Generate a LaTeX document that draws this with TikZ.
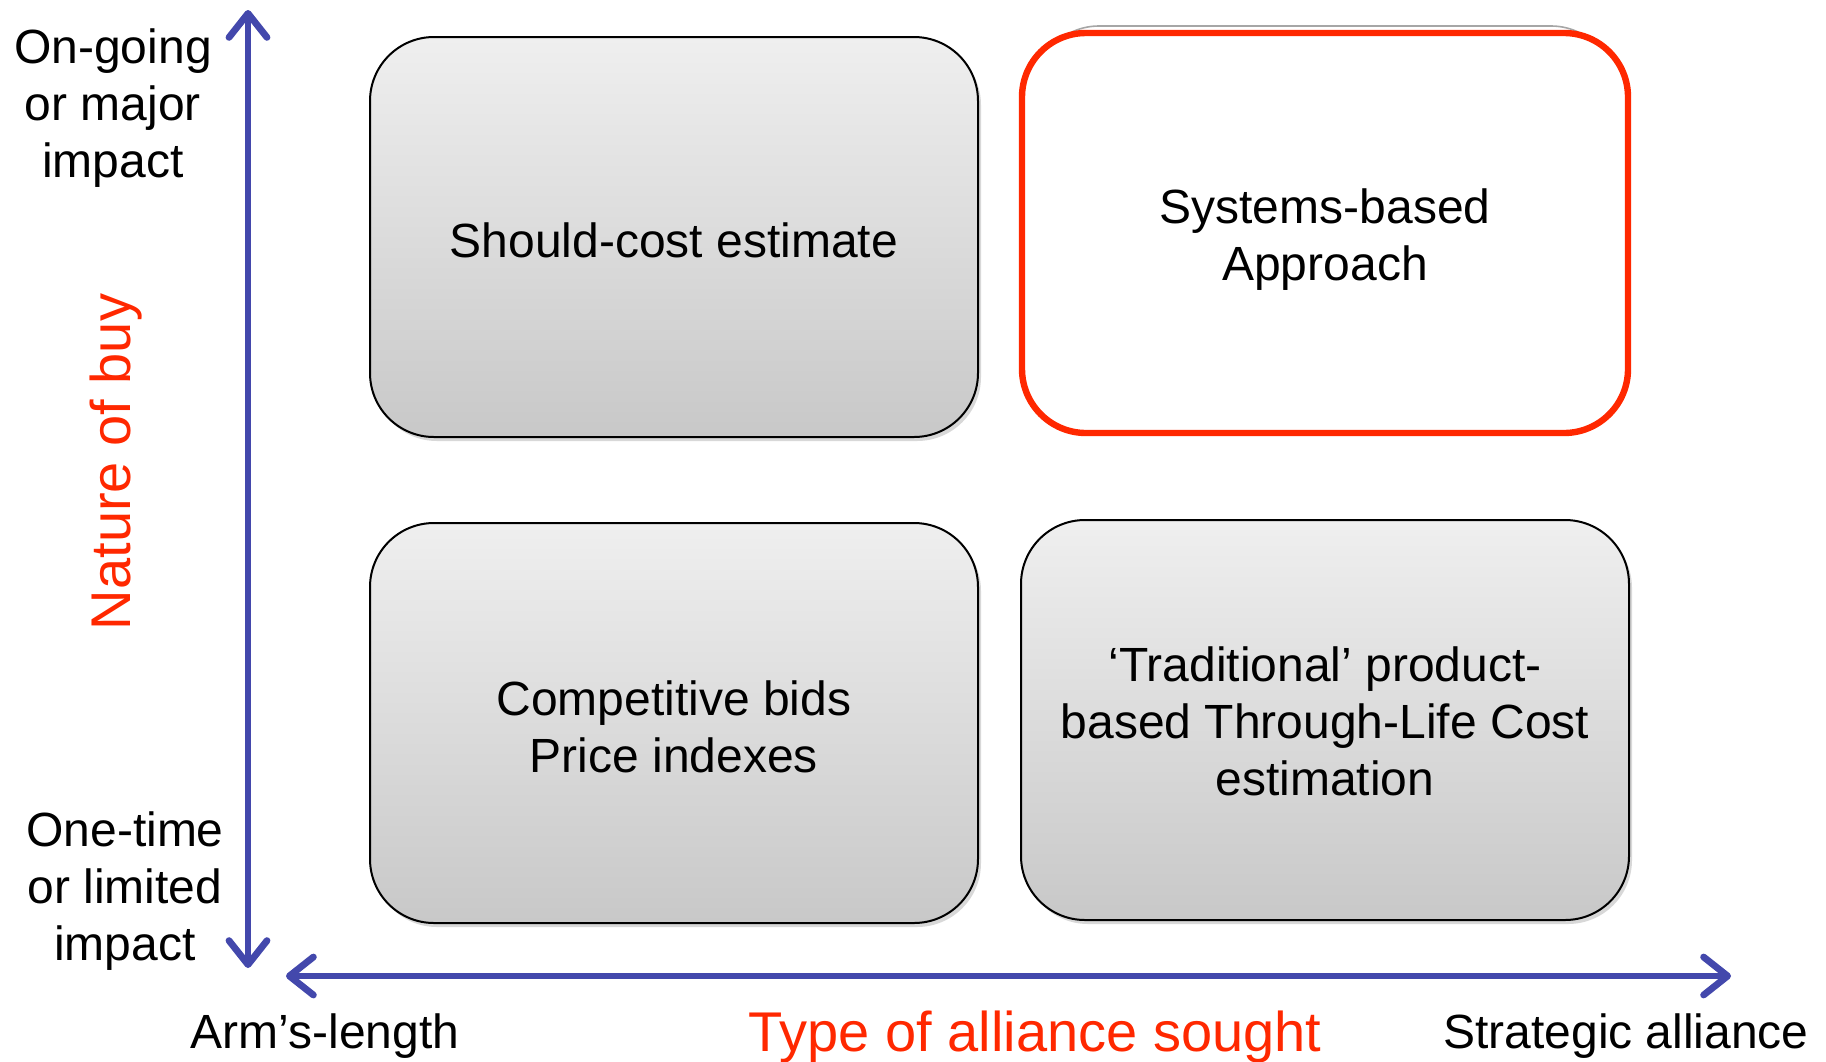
\documentclass[tikz,border=0pt]{standalone}
\usepackage{fontspec}
\setmainfont{Liberation Sans}
\usetikzlibrary{arrows.meta,shadows}
\definecolor{axisblue}{RGB}{67,72,172}
\definecolor{hired}{RGB}{255,40,0}
\definecolor{boxtop}{RGB}{239,239,239}
\definecolor{boxbot}{RGB}{200,200,200}
\tikzset{
  quad/.style={draw=black, line width=1pt, rounded corners=32pt,
    minimum width=304pt, minimum height=200pt,
    top color=boxtop, bottom color=boxbot,
    drop shadow={shadow xshift=1.5pt, shadow yshift=-2pt, fill=black!30}},
  hiquad/.style={draw=hired, line width=3.2pt, rounded corners=32pt, fill=white,
    minimum width=303pt, minimum height=200pt},
  ghostquad/.style={draw=gray!70, line width=0.8pt, rounded corners=32pt, fill=white,
    minimum width=290pt, minimum height=200pt},
  boxtext/.style={align=center, font=\fontsize{24}{28.5}\selectfont, text=black},
  axis/.style={draw=axisblue, line width=3pt, line cap=round,
    {Straight Barb[length=12pt, width=19pt, round, line width=3.4pt]}-{Straight Barb[length=12pt, width=19pt, round, line width=3.4pt]}},
  lbl/.style={font=\fontsize{24}{28.5}\selectfont, align=center, text=black},
  redlbl/.style={font=\fontsize{28}{32}\selectfont, text=hired}
}
\begin{document}
\begin{tikzpicture}[x=0.5pt, y=-0.5pt]
\useasboundingbox (0,0) rectangle (1826,1061);
% axes
\coordinate (ytop) at (248,10);
\coordinate (ybot) at (248,968);
\coordinate (xleft) at (286,976);
\coordinate (xright) at (1731,976);
\draw[axis] (ybot) -- (ytop);
\draw[axis] (xleft) -- (xright);
% quadrants
\node[quad] (tl) at (674,237) {};
\node[quad] (bl) at (674,723) {};
\node[quad] (br) at (1325,720) {};
\node[ghostquad] (ghost) at (1325,226) {};
\node[hiquad] (tr) at (1325,233) {};
\node[boxtext] (tltext) at ([yshift=-1.5pt]tl.center) {Should-cost estimate};
\node[boxtext] (bltext) at ([yshift=-1.8pt]bl.center) {Competitive bids\\Price indexes};
\node[boxtext] (brtext) at ([yshift=-0.6pt]br.center) {‘Traditional’ product-\\based Through-Life Cost\\estimation};
\node[boxtext] (trtext) at ([yshift=-3.5pt]tr.center) {Systems-based\\Approach};
% axis labels
\node[lbl] (yhi) at (113,108) {On-going\\or major\\impact};
\node[lbl] (ylo) at (125,891) {One-time\\or limited\\impact};
\node[redlbl, rotate=90] (ytitle) at (116,462) {Nature of buy};
\node[lbl, anchor=base] (xlo) at (325,1048) {Arm’s-length};
\node[lbl, anchor=base] (xhi) at (1626,1048) {Strategic alliance};
\node[redlbl, anchor=base] (xtitle) at (1035,1051) {Type of alliance sought};
\end{tikzpicture}
\end{document}
